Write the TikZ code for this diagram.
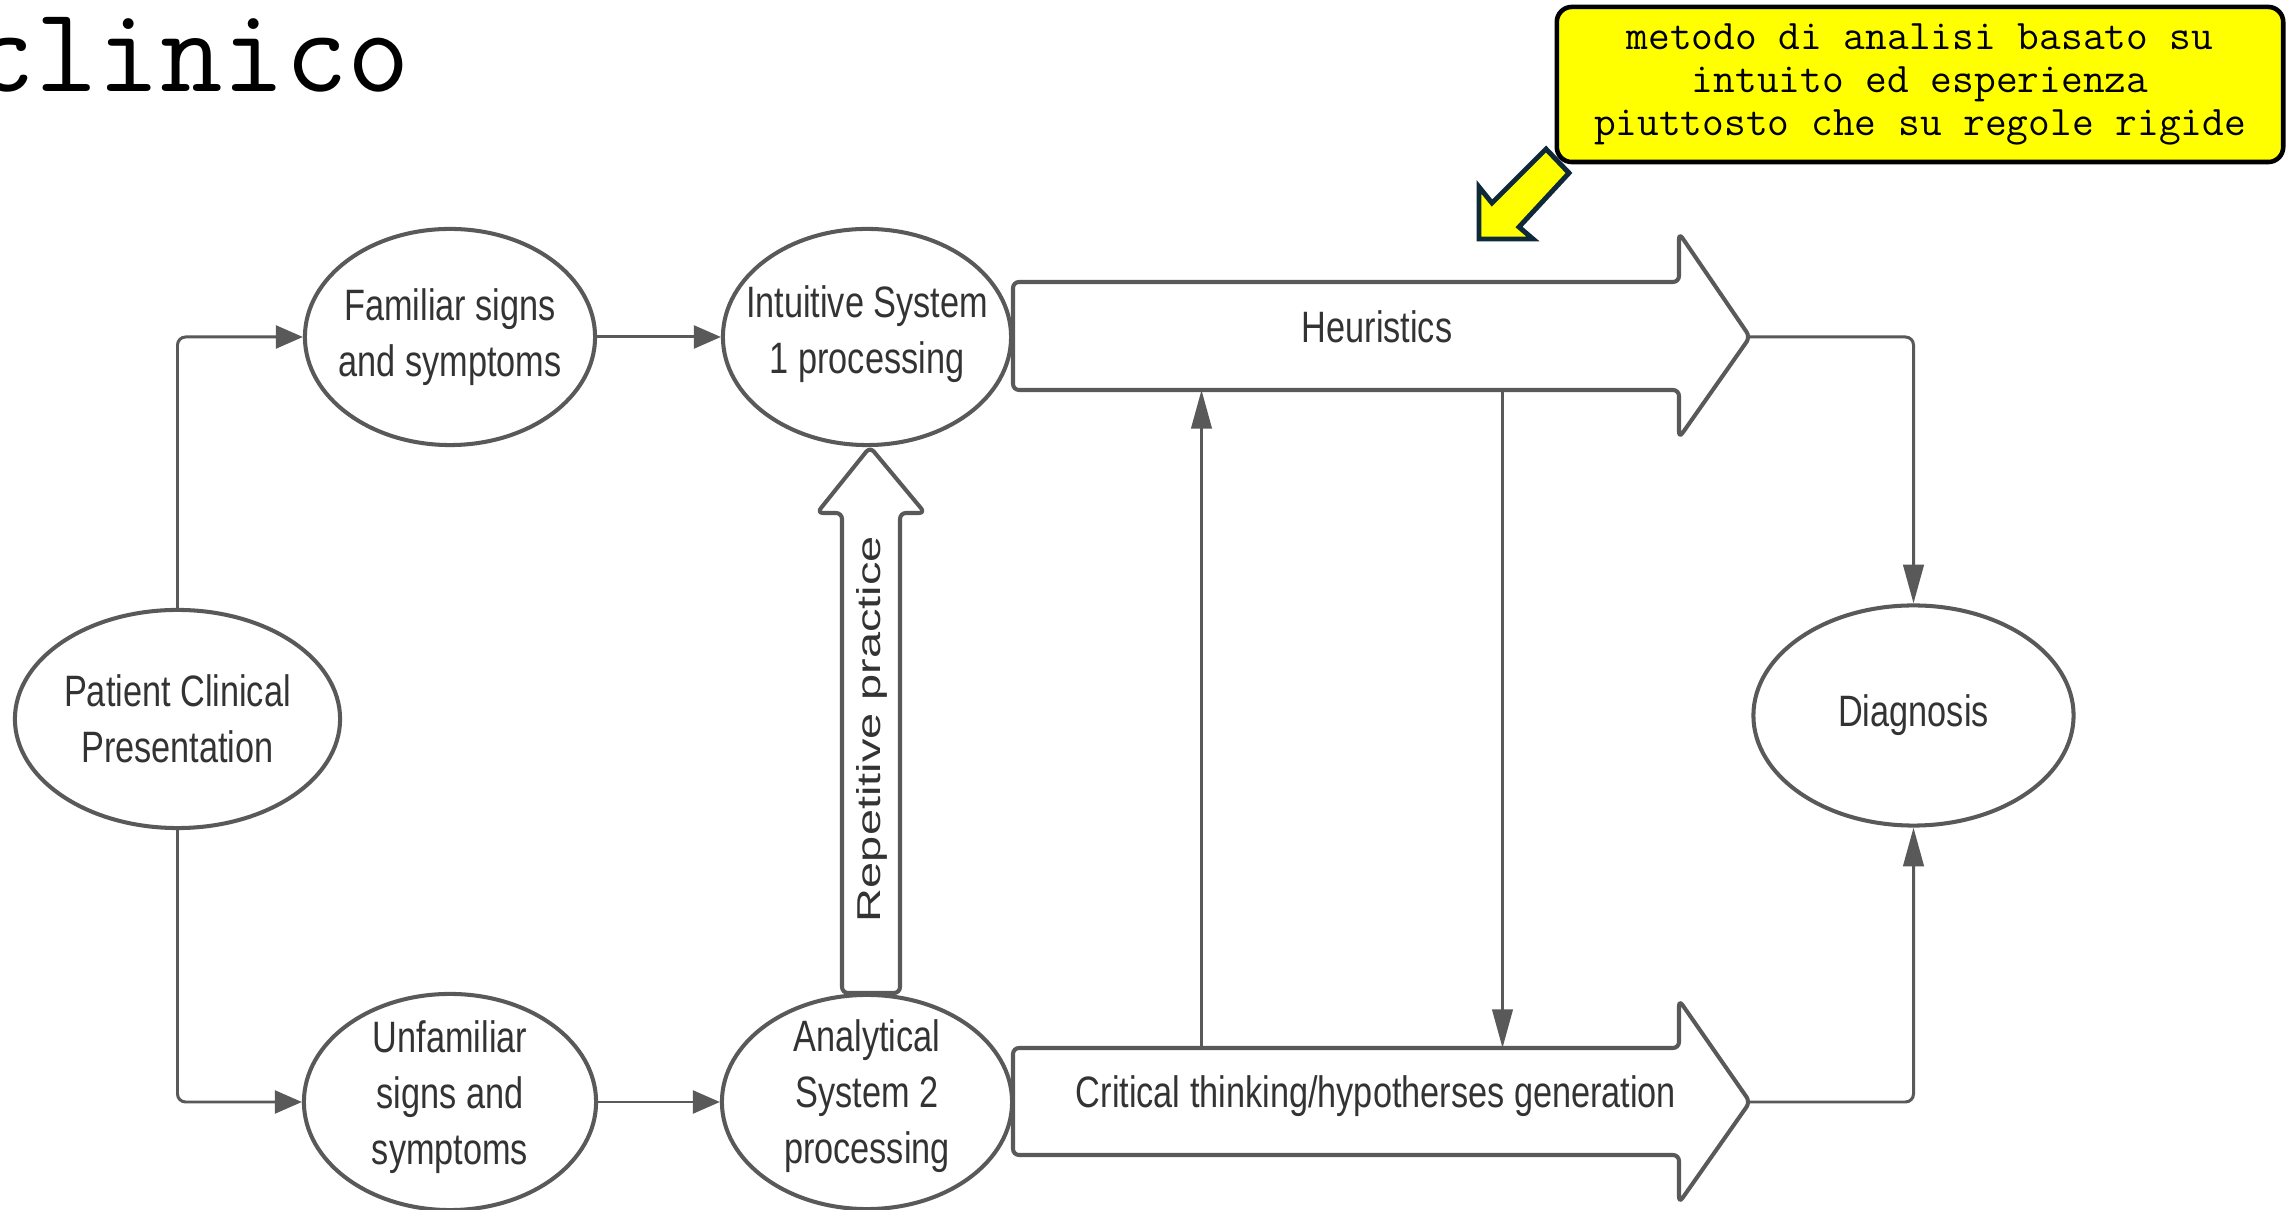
\documentclass[tikz,border=0pt]{standalone}
\usepackage{fontspec}
\newfontfamily\diagfont[FakeStretch=0.78]{Liberation Sans}
\newfontfamily\vertfont[FakeStretch=1.42]{Liberation Sans}
\usetikzlibrary{arrows.meta,shapes.geometric}
\definecolor{linegray}{HTML}{595959}
\definecolor{textgray}{HTML}{333333}
\definecolor{navyb}{HTML}{0E2A3A}
\definecolor{callyellow}{HTML}{FFFF00}
\begin{document}
\begin{tikzpicture}[x=0.01cm, y=-0.01cm,
  bubble/.style={ellipse, draw=linegray, line width=1.15pt, fill=white, inner sep=0pt},
  lbl/.style={text=textgray, inner sep=0pt, align=center, font=\diagfont\fontsize{12.5}{15.9}\selectfont},
  conn/.style={draw=linegray, line width=0.85pt, rounded corners=0.08cm},
  harrow/.style={-{Triangle[length=7.7pt,width=6.5pt]}},
  varrow/.style={-{Triangle[length=11pt,width=5.8pt]}},
  blockarrow/.style={draw=linegray, line width=1.15pt, fill=white, rounded corners=0.06cm, line join=round},
]
\useasboundingbox (0,0) rectangle (2290,1210);
\clip (0,0) rectangle (2290,1210);
\fill[white] (0,0) rectangle (2290,1210);

% title
\node[anchor=base west, inner sep=0pt, font=\ttfamily\fontsize{34.5}{40}\selectfont, text=black] (title) at (-28,92) {clinico};

% callout
\node[draw=black, line width=1.3pt, fill=callyellow, rounded corners=0.15cm,
      minimum width=7.26cm, minimum height=1.55cm, inner sep=0pt, align=center,
      font=\ttfamily\fontsize{12}{12.2}\selectfont] (callout) at (1920,84.5)
  {metodo di analisi basato su\\intuito ed esperienza\\piuttosto che su regole rigide};
\draw[fill=callyellow, draw=navyb, line width=1.4pt, line join=miter]
  (1546,149) -- (1569,173) -- (1519,227) -- (1533,239) -- (1479,239) -- (1479,187) -- (1492,203) -- cycle;

% block arrows
\draw[blockarrow] (1013,282) -- (1679,282) -- (1679,233) -- (1750,337) -- (1679,438) -- (1679,390) -- (1013,390) -- cycle;
\draw[blockarrow] (1013,1048) -- (1679,1048) -- (1679,1000) -- (1750,1102) -- (1679,1203) -- (1679,1155) -- (1013,1155) -- cycle;
\draw[blockarrow] (842,993) -- (842,513) -- (817,513) -- (870,447) -- (925,513) -- (900,513) -- (900,993) -- cycle;
\coordinate (heurtip) at (1750,337);
\coordinate (crittip) at (1750,1102);
\coordinate (upstart) at (1201.5,1048);
\coordinate (upend) at (1201.5,390);
\coordinate (downstart) at (1502.5,390);
\coordinate (downend) at (1502.5,1048);
\node[lbl, anchor=base] (heurtxt) at (1377,343) {Heuristics};
\node[lbl, anchor=base] (crittxt) at (1376,1108) {Critical thinking/hypotherses generation};
\node[rotate=90, anchor=base, text=textgray, inner sep=0pt, font=\vertfont\fontsize{9.4}{11}\selectfont] (reptxt) at (880,729) {Repetitive practice};

% ellipses
\node[bubble, minimum width=3.25cm, minimum height=2.18cm] (pat) at (177.5,719) {};
\node[bubble, minimum width=2.9cm, minimum height=2.16cm] (fam) at (450,337) {};
\node[bubble, minimum width=2.88cm, minimum height=2.16cm] (intu) at (867,337) {};
\node[bubble, minimum width=2.92cm, minimum height=2.16cm] (unf) at (450,1102) {};
\node[bubble, minimum width=2.9cm, minimum height=2.14cm] (ana) at (867,1102) {};
\node[bubble, minimum width=3.2cm, minimum height=2.2cm] (diag) at (1913.5,715.5) {};

\node[lbl] (pattxt) at (177.5,719) {Patient Clinical\\Presentation};
\node[lbl] (famtxt) at (450,337) {Familiar signs\\and symptoms};
\node[lbl] (intutxt) at (867,334) {Intuitive System\\1 processing};
\node[lbl] (unftxt) at (450,1097) {Unfamiliar\\signs and\\symptoms};
\node[lbl] (anatxt) at (867,1096) {Analytical\\System 2\\processing};
\node[lbl] (diagtxt) at (1913.5,715.5) {Diagnosis};

% connectors
\draw[conn,harrow] (pat.north) |- (fam.west);
\draw[conn,harrow] (pat.south) |- (unf.west);
\draw[conn,harrow] (fam.east) -- (intu.west);
\draw[conn,harrow] (unf.east) -- (ana.west);
\draw[conn,varrow] (heurtip) -| (diag.north);
\draw[conn,varrow] (crittip) -| (diag.south);
\draw[conn,varrow] (upstart) -- (upend);
\draw[conn,varrow] (downstart) -- (downend);
\end{tikzpicture}
\end{document}
